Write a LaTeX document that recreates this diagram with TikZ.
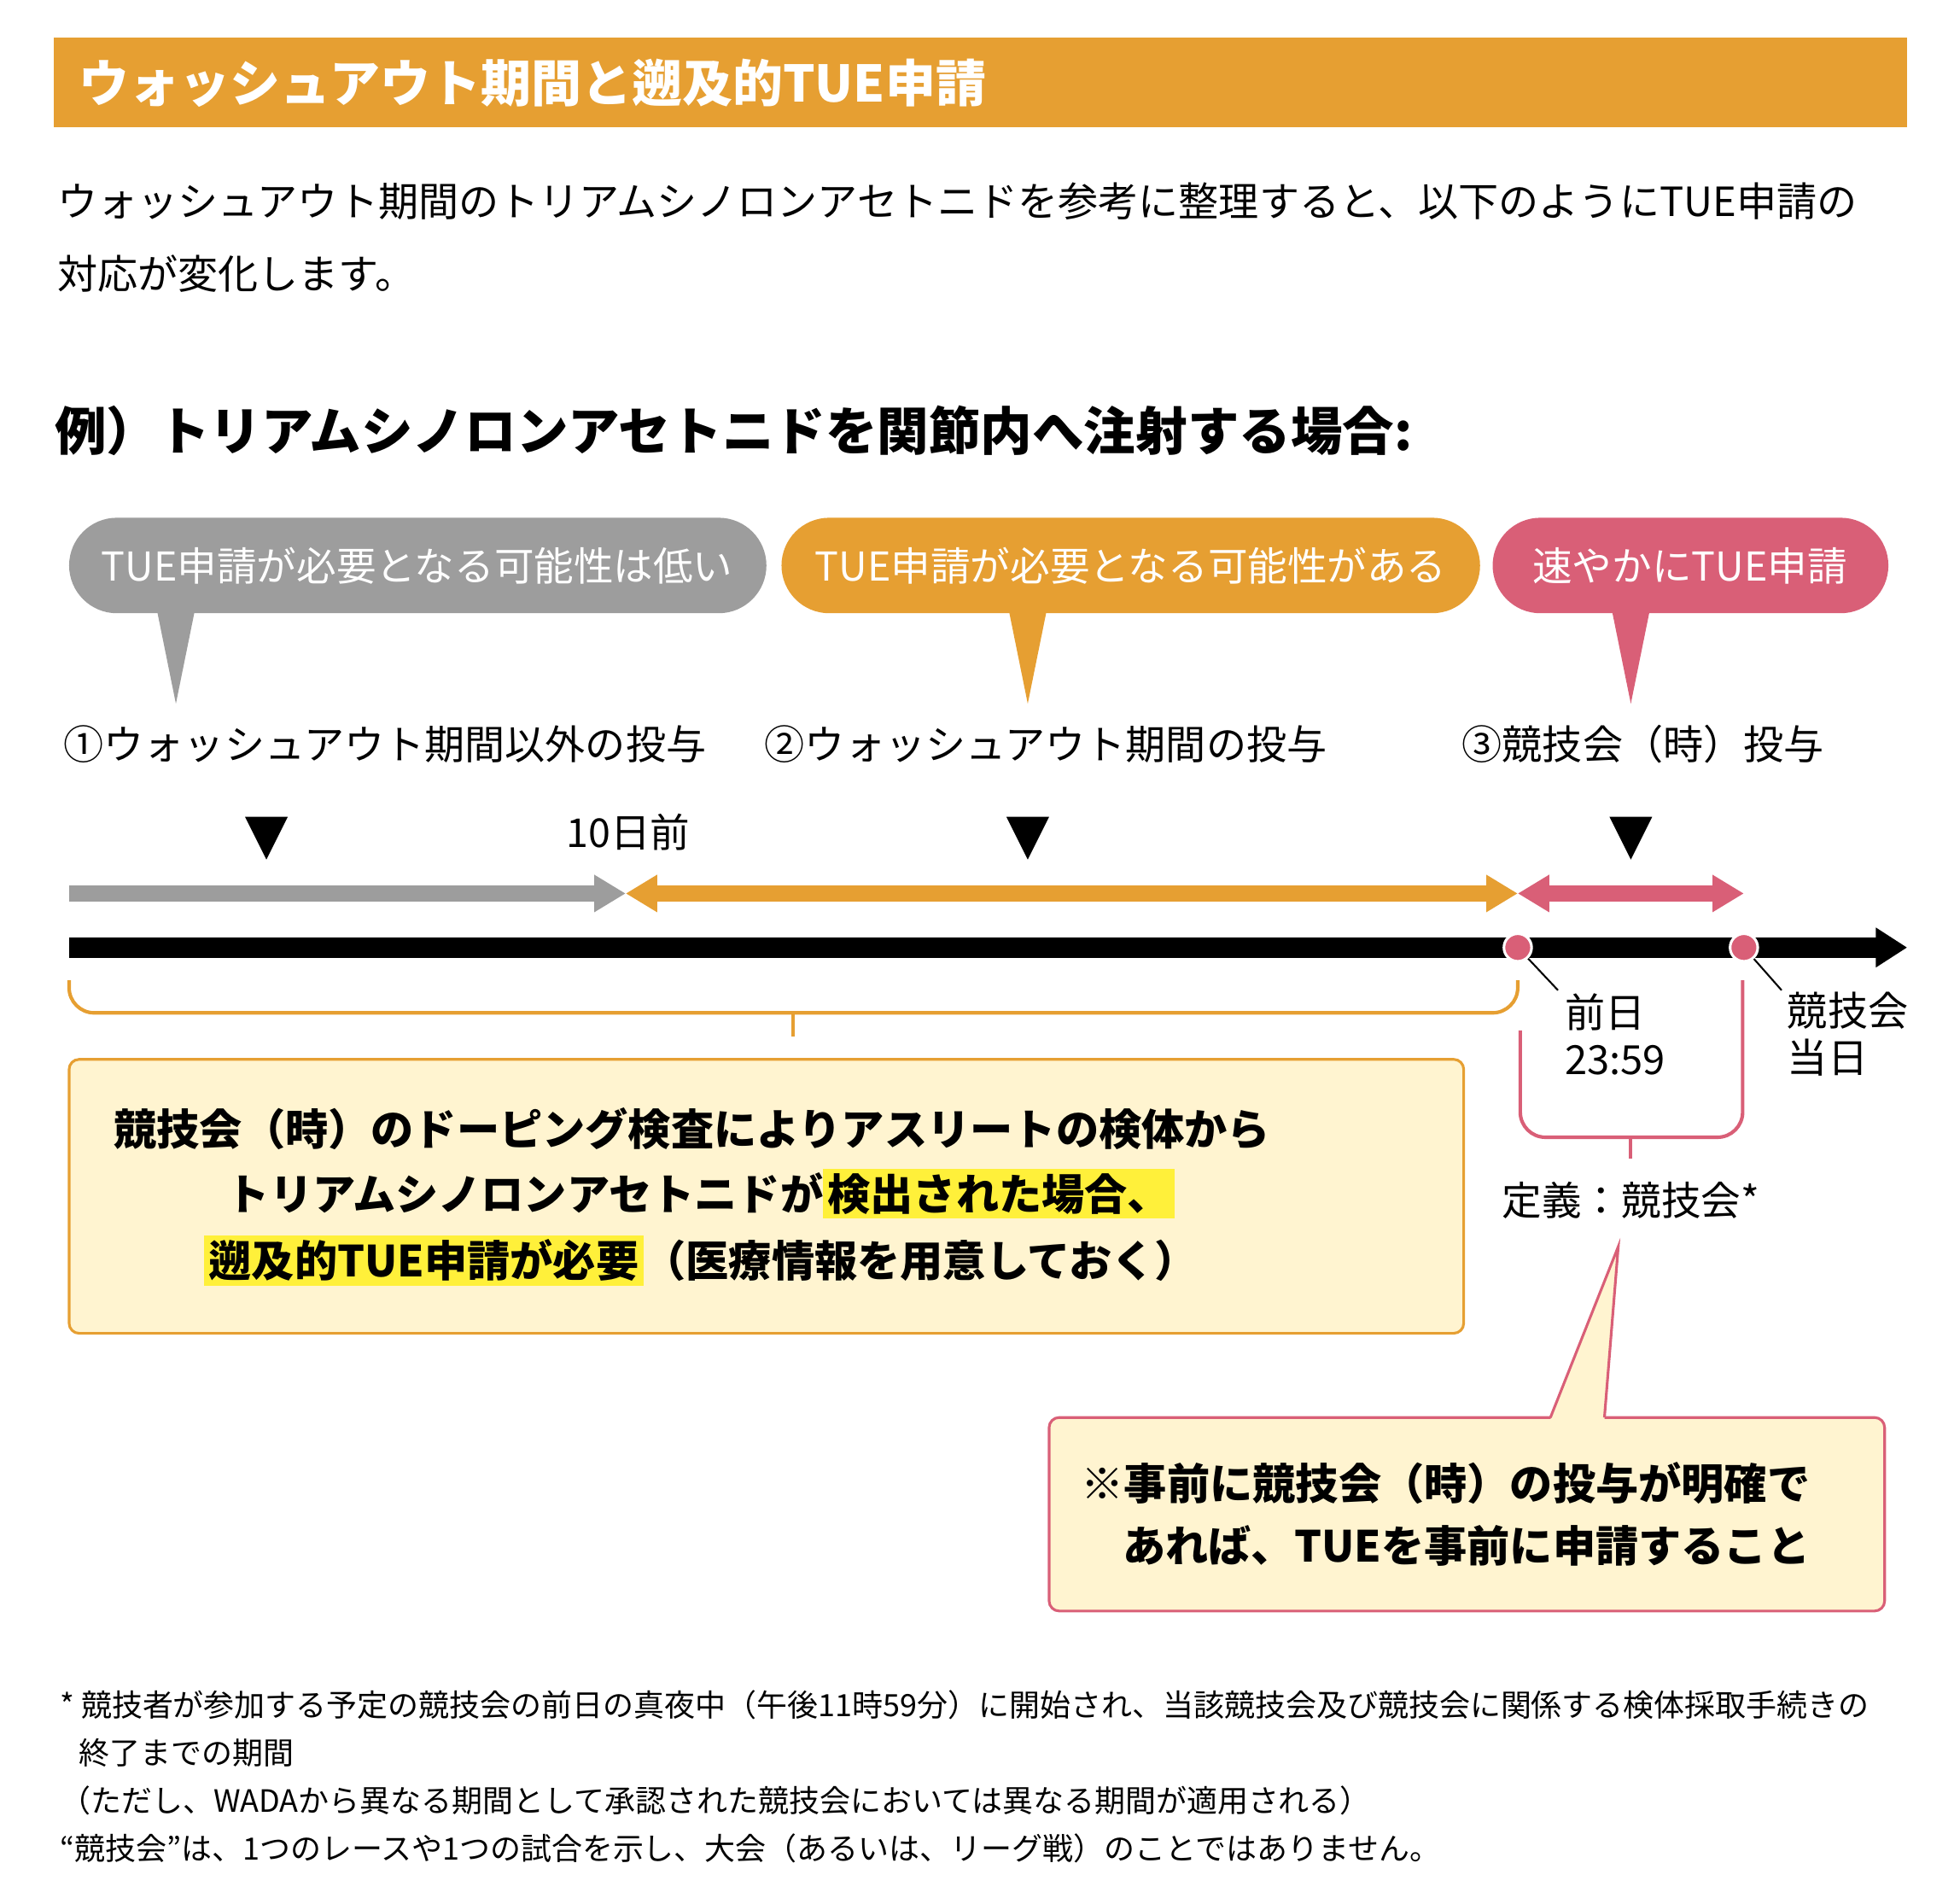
\documentclass[tikz,border=0pt]{standalone}
\usepackage{fontspec}
\setmainfont{Noto Sans CJK JP}
\usetikzlibrary{arrows.meta,positioning}
\definecolor{wOrange}{HTML}{E69F32}
\definecolor{wGray}{HTML}{9D9D9D}
\definecolor{wPink}{HTML}{D95F77}
\definecolor{wCream}{HTML}{FFF4D0}
\definecolor{wHi}{HTML}{FFF03A}
\newcommand{\hl}[1]{{\setlength{\fboxsep}{1pt}\colorbox{wHi}{#1}}}
\tikzset{
  body/.style={font=\fontsize{9.1}{10.5}\selectfont, anchor=west, inner sep=0},
  boxtext/.style={body, font=\fontsize{9.7}{11}\selectfont\bfseries},
  bubble/.style={rounded corners=0.38cm, text=white, font=\fontsize{9}{10}\selectfont},
  tag/.style={font=\fontsize{9}{10}\selectfont, inner sep=0},
  foot/.style={font=\fontsize{6.95}{8}\selectfont, anchor=west, inner sep=0},
}
\begin{document}
\begin{tikzpicture}[x=0.01cm, y=-0.01cm]
\useasboundingbox (0,0) rectangle (1560,1515);
% title
\fill[wOrange] (43,30) rectangle (1518,101);
\node[body, text=white, font=\fontsize{11.4}{12}\selectfont\bfseries] (title) at (62,66) {ウォッシュアウト期間と遡及的TUE申請};
\node[body] (p1) at (45,160) {ウォッシュアウト期間のトリアムシノロンアセトニドを参考に整理すると、以下のようにTUE申請の};
\node[body] (p2) at (45,218) {対応が変化します。};
\node[body, font=\fontsize{11.7}{12}\selectfont\bfseries] (head) at (43,343) {例）トリアムシノロンアセトニドを関節内へ注射する場合:};

% bubbles
\fill[wGray] (125,486) -- (140,560) -- (155,486) -- cycle;
\fill[wGray, bubble] (55,412) rectangle (610,488);
\node[bubble, text=white] (b1) at (332,450) {TUE申請が必要となる可能性は低い};
\fill[wOrange] (803,486) -- (818,560) -- (833,486) -- cycle;
\fill[wOrange, bubble] (622,412) rectangle (1178,488);
\node[bubble] (b2) at (900,450) {TUE申請が必要となる可能性がある};
\fill[wPink] (1283,486) -- (1298,560) -- (1313,486) -- cycle;
\fill[wPink, bubble] (1188,412) rectangle (1503,488);
\node[bubble] (b3) at (1345,450) {速やかにTUE申請};

% case labels
\node[body] (c1) at (50,592) {①ウォッシュアウト期間以外の投与};
\node[body] (c2) at (608,592) {②ウォッシュアウト期間の投与};
\node[body] (c3) at (1163,592) {③競技会（時）投与};
\foreach \x/\n in {212/t1, 818/t2, 1298/t3}
  \fill (\x-17,650) -- (\x+17,650) -- (\x,684) -- cycle;
\node[tag] (ten) at (500,662) {10日前};

% periods
\coordinate (g0) at (55,711); \coordinate (g1) at (498,711);
\coordinate (o1) at (1208,711); \coordinate (p1e) at (1388,711);
\draw[wGray, line width=1.3mm, -{Triangle[length=0.25cm,width=0.28cm]}] (g0) -- (g1);
\draw[wOrange, line width=1.3mm, {Triangle[length=0.25cm,width=0.28cm]}-{Triangle[length=0.25cm,width=0.28cm]}] (g1) -- (o1);
\draw[wPink, line width=1.3mm, {Triangle[length=0.25cm,width=0.28cm]}-{Triangle[length=0.25cm,width=0.28cm]}] (o1) -- (p1e);

% axis
\coordinate (a0) at (55,754); \coordinate (a1) at (1518,754);
\draw[line width=1.6mm, -{Triangle[length=0.25cm,width=0.3cm]}] (a0) -- (a1);
\node[circle, fill=wPink, draw=white, line width=0.6pt, minimum size=0.22cm, inner sep=0] (d1) at (1208,754) {};
\node[circle, fill=wPink, draw=white, line width=0.6pt, minimum size=0.22cm, inner sep=0] (d2) at (1388,754) {};
\node[body, align=left] (l1) at (1245,823) {前日\\23:59};
\node[body, align=left] (l2) at (1422,823) {競技会\\当日};
\draw[thin] (d1) -- (1240,788);
\draw[thin] (d2) -- (1418,788);

% brackets
\draw[wOrange, line width=0.8pt, rounded corners=0.2cm] (55,780) -- (55,806) -- (1208,806) -- (1208,780);
\draw[wOrange, line width=0.8pt] (631,806) -- (631,825);
\draw[wPink, line width=0.8pt, rounded corners=0.2cm] (1210,820) -- (1210,905) -- (1387,905) -- (1387,780);
\draw[wPink, line width=0.8pt] (1298,905) -- (1298,922);
\node[tag] (def) at (1298,955) {定義：競技会*};

% main box
\draw[wOrange, fill=wCream, line width=0.6pt, rounded corners=0.08cm] (55,843) rectangle (1165,1061);
\node[boxtext] (m1) at (90,898) {競技会（時）のドーピング検査によりアスリートの検体から};
\node[boxtext] (m2) at (180,950) {トリアムシノロンアセトニドが\hl{検出された場合、}};
\node[boxtext] (m3) at (162,1003) {\hl{遡及的TUE申請が必要}（医療情報を用意しておく）};

% callout
\draw[wPink, fill=wCream, line width=0.6pt, rounded corners=0.08cm] (835,1128) rectangle (1500,1282);
\fill[wCream] (1234,1129.5) -- (1288,992) -- (1277,1129.5) -- cycle;
\draw[wPink, line width=0.6pt] (1234,1128) -- (1288,992) -- (1277,1128);
\node[boxtext] (n1) at (860,1180) {※事前に競技会（時）の投与が明確で};
\node[boxtext] (n2) at (893,1230) {あれば、TUEを事前に申請すること};

% footnotes
\node[foot] (f1) at (47,1357) {* 競技者が参加する予定の競技会の前日の真夜中（午後11時59分）に開始され、当該競技会及び競技会に関係する検体採取手続きの};
\node[foot] (f2) at (62,1395) {終了までの期間};
\node[foot] (f3) at (47,1433) {（ただし、WADAから異なる期間として承認された競技会においては異なる期間が適用される）};
\node[foot] (f4) at (47,1471) {“競技会”は、1つのレースや1つの試合を示し、大会（あるいは、リーグ戦）のことではありません。};
\end{tikzpicture}
\end{document}
